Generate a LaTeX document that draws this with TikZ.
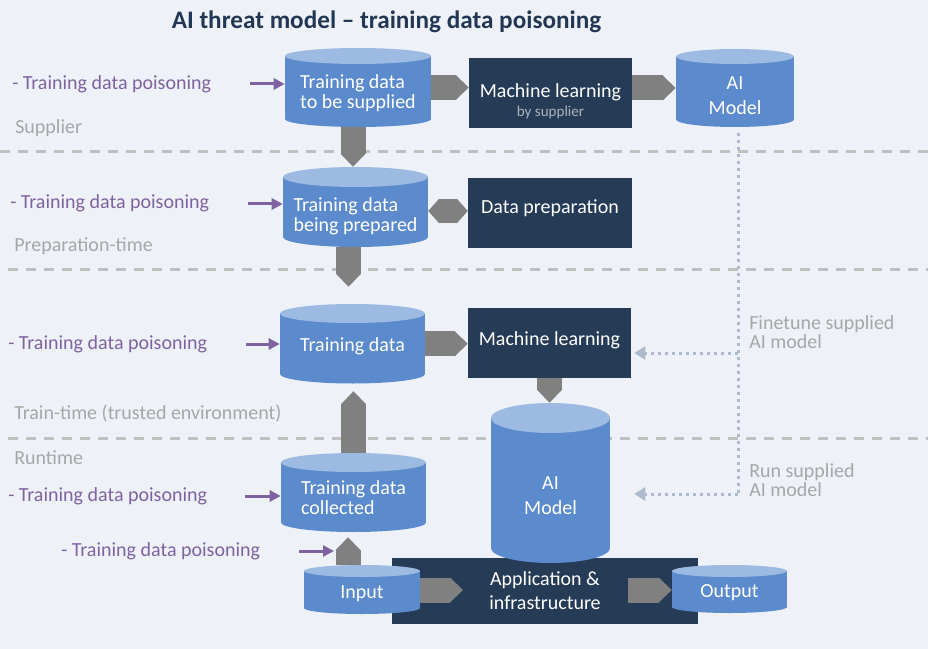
\documentclass[tikz,border=0pt]{standalone}
\usepackage{fontspec}
\setmainfont{Carlito}
\usetikzlibrary{arrows.meta, calc, fit}

\definecolor{bgpanel}{RGB}{238,242,248}
\definecolor{storeblue}{RGB}{91,138,205}
\definecolor{storelight}{RGB}{157,186,226}
\definecolor{navybox}{RGB}{38,59,86}
\definecolor{titlenavy}{RGB}{35,55,85}
\definecolor{blockgray}{RGB}{128,128,128}
\definecolor{threatpurple}{RGB}{127,98,160}
\definecolor{zonegray}{RGB}{166,166,166}
\definecolor{zonedash}{RGB}{192,192,192}
\definecolor{dotblue}{RGB}{174,186,203}
\definecolor{subgray}{RGB}{172,180,192}

\tikzset{
  storebody/.style={fill=storeblue},
  storetop/.style={fill=storelight},
  storetext/.style={text=white, font=\fontsize{15}{15}\selectfont, inner sep=0pt},
  procbox/.style={fill=navybox, inner sep=0pt},
  proctext/.style={text=white, font=\fontsize{15}{18}\selectfont, align=center, inner sep=0pt},
  threat/.style={text=threatpurple, font=\fontsize{15}{15}\selectfont, anchor=west, inner sep=0pt},
  zone/.style={text=zonegray, font=\fontsize{15}{14.25}\selectfont, anchor=west, align=left, inner sep=0pt},
  zoneline/.style={draw=zonedash, line width=2.25pt, dash pattern=on 7.5pt off 6pt},
  flow/.style={draw=blockgray, line width=18.75pt, -{Triangle[length=9.75pt, width=18.75pt, line width=0pt]}},
  flowboth/.style={draw=blockgray, line width=18pt, {Triangle[length=8pt, width=18pt, line width=0pt]}-{Triangle[length=8pt, width=18pt, line width=0pt]}},
  poison/.style={draw=threatpurple, line width=2.25pt, -{Triangle[length=8.25pt, width=8.25pt]}},
  dotline/.style={draw=dotblue, line width=2.25pt, dash pattern=on 2.25pt off 3pt},
  dotarrow/.style={dotline, -{Triangle[length=8.25pt, width=9.75pt]}},
}

% data store: [text options] name, x left, x right, y top, y bottom, ry, text dy, text
\newcommand{\store}[9][align=left]{%
  \fill[storebody] (#3,#5) rectangle (#4,#6);
  \fill[storebody] ({(#3+#4)/2},#6) ellipse [x radius={(#4-#3)/2}, y radius=#7];
  \fill[storetop] ({(#3+#4)/2},#5) ellipse [x radius={(#4-#3)/2}, y radius=#7];
  \node[inner sep=0pt, fit={(#3,{#5-#7}) (#4,{#6+#7})}] (#2) {};
  \node[storetext, #1] at ($(#2.center)+(0,#8)$) {#9};
}

\begin{document}
\begin{tikzpicture}[x=0.75pt, y=-0.75pt]
  \fill[bgpanel] (0,0) rectangle (928,649);
  \useasboundingbox (0,0) rectangle (928,649);

  % title
  \node[text=titlenavy, font=\fontsize{18.9}{22}\bfseries] (title) at (386.5,22) {AI threat model -- training data poisoning};

  % zones
  \draw[zoneline] (0,152) -- (928,152);
  \draw[zoneline] (8,269) -- (928,269);
  \draw[zoneline] (8,438) -- (928,438);
  \node[zone] (zsup) at (15,128) {Supplier};
  \node[zone] (zprep) at (14,246) {Preparation-time};
  \node[zone] (ztrain) at (14,414) {Train-time (trusted environment)};
  \node[zone] (zrun) at (14,458) {Runtime};

  % processes
  \node[procbox, fit={(469,58) (632,128)}] (mlsup) {};
  \node[proctext] at ($(mlsup.center)+(0,-1)$) {Machine learning};
  \node[text=subgray, font=\fontsize{11.3}{13}\selectfont, inner sep=0pt] at ($(mlsup.center)+(0,19)$) {by supplier};
  \node[procbox, fit={(468,178) (632,248)}] (dataprep) {};
  \node[proctext] at ($(dataprep.center)+(0,-5)$) {Data preparation};
  \node[procbox, fit={(468,308) (631,378)}] (mltrain) {};
  \node[proctext] at ($(mltrain.center)+(0,-3)$) {Machine learning};
  \node[procbox, fit={(392,558) (698,624)}] (app) {};
  \node[proctext] at (app.center) {Application \&\\infrastructure};

  % data stores
  \store{supdata}{285}{431}{56}{119}{8}{5.5}{Training data\\to be supplied}
  \store{prepdata}{283}{428}{177}{237}{10}{9.5}{Training data\\being prepared}
  \store{traindata}{280}{425}{313.5}{374}{9.5}{3}{Training data}
  \store{colldata}{281}{426}{462.5}{522.5}{9.5}{5.5}{Training data\\collected}
  \store[align=center]{aisup}{676}{794}{56.5}{119.5}{7.5}{7.5}{AI\\[3.75pt]Model}
  \store[align=center]{aimodel}{491}{610}{418}{548}{15}{12.5}{AI\\[3.75pt]Model}
  \store[align=center]{input}{304}{420}{571}{608}{6}{4.5}{Input}
  \store[align=center]{output}{672}{787}{571}{607}{6}{4}{Output}

  % flows
  \draw[flow] (supdata.east) -- (supdata.east -| mlsup.west);
  \draw[flow] (aisup.west -| mlsup.east) -- (aisup.west);
  \draw[flow] ($(supdata.south)+(-5,0)$) -- ($(supdata.south |- prepdata.north)+(-5,0)$);
  \draw[flowboth] ($(prepdata.east)+(0,4)$) -- ($(prepdata.east -| dataprep.west)+(0,4)$);
  \draw[flow, shorten >=12.75pt] ($(prepdata.south)+(-7,0)$) -- ($(prepdata.south |- traindata.north)+(-7,0)$);
  \draw[flow] (traindata.east) -- (traindata.east -| mltrain.west);
  \draw[flow] (mltrain.south) -- (mltrain.south |- aimodel.north);
  \draw[flow, shorten >=5.6pt] (colldata.north) -- (colldata.north |- traindata.south);
  \draw[flow, shorten >=3.75pt] ($(input.north)+(-14,0)$) -- ($(input.north |- colldata.south)+(-14,0)$);
  \coordinate (appin) at (463,590);
  \coordinate (appout) at (628,590);
  \draw[flow] (input.east |- appin) -- (appin);
  \draw[flow] (appout) -- (appout -| output.west);

  % threats
  \node[threat] (th1) at (12,84) {- Training data poisoning};
  \node[threat] (th2) at (10,203) {- Training data poisoning};
  \node[threat] (th3) at (8,344) {- Training data poisoning};
  \node[threat] (th4) at (8,496) {- Training data poisoning};
  \node[threat] (th5) at (61,551) {- Training data poisoning};
  \coordinate (p1) at (250,84);
  \coordinate (p2) at (248,204);
  \coordinate (p3) at (246,344);
  \coordinate (p4) at (245,496);
  \coordinate (p5) at (299,551);
  \coordinate (p5e) at (334,551);
  \draw[poison] (p1) -- (p1 -| supdata.west);
  \draw[poison] (p2) -- (p2 -| prepdata.west);
  \draw[poison] (p3) -- (p3 -| traindata.west);
  \draw[poison] (p4) -- (p4 -| colldata.west);
  \draw[poison] (p5) -- (p5e);

  % supplied model
  \coordinate (ftap) at (738,353);
  \coordinate (rtap) at (738,494);
  \draw[dotline, shorten <=4.5pt] (ftap |- aisup.south) -- (rtap);
  \draw[dotarrow, shorten >=2.25pt] (ftap) -- (ftap -| mltrain.east);
  \draw[dotarrow, shorten >=18pt] (rtap) -- (rtap -| aimodel.east);
  \node[zone] (ftlabel) at (749,332.5) {Finetune supplied\\AI model};
  \node[zone] (runlabel) at (749,480.5) {Run supplied\\AI model};
\end{tikzpicture}
\end{document}
